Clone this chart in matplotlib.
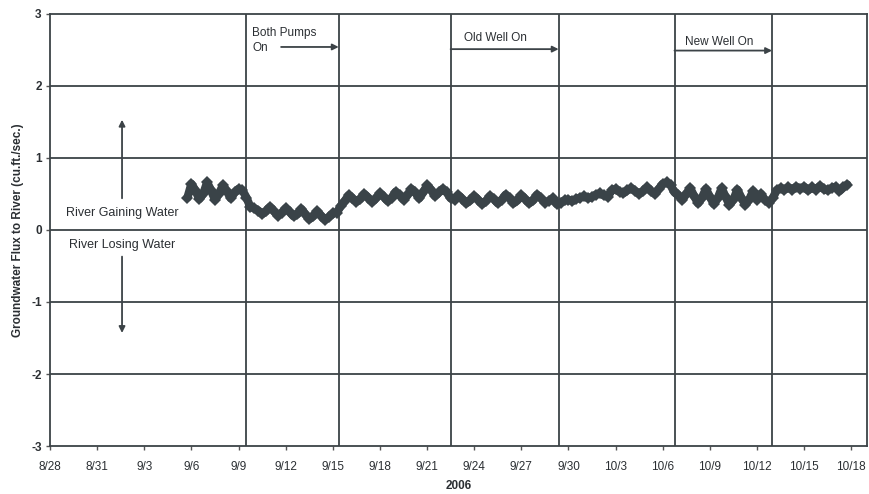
import matplotlib
matplotlib.use("Agg")
import matplotlib.pyplot as plt
import pandas as pd

plt.rcParams['font.family'] = ['Liberation Sans', 'DejaVu Sans']

# ---- data -------------------------------------------------------------
# flux readings every 6 hours starting 2006-09-05 18:00 (cu.ft./sec.)
series_start = '2006-09-05 18:00'
series_step = '6h'
flux = [
    0.45,
    0.64, 0.55, 0.43, 0.50,
    0.66, 0.55, 0.42, 0.50,
    0.62, 0.54, 0.44, 0.52,
    0.57, 0.55, 0.45, 0.32,
    0.30, 0.27, 0.22, 0.26,
    0.32, 0.26, 0.20, 0.24,
    0.30, 0.25, 0.19, 0.22,
    0.29, 0.22, 0.15, 0.19,
    0.26, 0.20, 0.14, 0.18,
    0.23, 0.24, 0.33, 0.40,
    0.48, 0.44, 0.39, 0.43,
    0.50, 0.45, 0.39, 0.44,
    0.51, 0.46, 0.40, 0.45,
    0.53, 0.48, 0.42, 0.48,
    0.57, 0.52, 0.44, 0.52,
    0.62, 0.56, 0.47, 0.52,
    0.57, 0.52, 0.44, 0.42,
    0.48, 0.43, 0.37, 0.41,
    0.47, 0.42, 0.36, 0.40,
    0.47, 0.43, 0.37, 0.42,
    0.49, 0.44, 0.37, 0.41,
    0.48, 0.43, 0.37, 0.41,
    0.49, 0.44, 0.38, 0.40,
    0.44, 0.36, 0.38, 0.41,
    0.42, 0.40, 0.43, 0.45,
    0.47, 0.44, 0.46, 0.49,
    0.51, 0.48, 0.46, 0.55,
    0.57, 0.53, 0.51, 0.55,
    0.58, 0.54, 0.50, 0.54,
    0.59, 0.54, 0.50, 0.57,
    0.64, 0.66, 0.62, 0.52,
    0.48, 0.42, 0.50, 0.58,
    0.47, 0.37, 0.45, 0.57,
    0.46, 0.36, 0.44, 0.58,
    0.46, 0.35, 0.42, 0.56,
    0.45, 0.35, 0.42, 0.54,
    0.42, 0.50, 0.42, 0.38,
    0.44, 0.55, 0.58, 0.56,
    0.59, 0.56, 0.60, 0.57,
    0.60, 0.55, 0.59, 0.56,
    0.61, 0.57, 0.55, 0.58,
    0.60, 0.54, 0.59, 0.63,
]

# pumping event lines
event_times = ['2006-09-09 12:00', '2006-09-15 09:00', '2006-09-22 12:00',
               '2006-09-29 09:00', '2006-10-06 18:00', '2006-10-12 23:00']

x_tick_dates = pd.date_range('2006-08-28', '2006-10-18', freq='3D')
x_tick_labels = ['8/28', '8/31', '9/3', '9/6', '9/9', '9/12', '9/15', '9/18',
                 '9/21', '9/24', '9/27', '9/30', '10/3', '10/6', '10/9',
                 '10/12', '10/15', '10/18']
y_ticks = [-3, -2, -1, 0, 1, 2, 3]

# ---- plot -------------------------------------------------------------
times = pd.date_range(series_start, periods=len(flux), freq=series_step)
ev = pd.to_datetime(event_times)

fig = plt.figure(figsize=(8.7, 4.94), dpi=100)
ax = fig.add_axes([0.0575, 0.097, 0.939, 0.875])

dark = '#3a4348'
txtc = '#2b2f33'
ax.set_xlim(pd.Timestamp('2006-08-28'), pd.Timestamp('2006-10-19'))
ax.set_ylim(-3, 3)

for y in y_ticks[1:-1]:
    ax.axhline(y, color='#3c4347', lw=1.3, zorder=1)
for t in ev:
    ax.axvline(t, color='#3c4347', lw=1.3, zorder=1)

ax.plot(times, flux, color=dark, lw=6, marker='D', ms=6.5,
        markeredgewidth=0, solid_joinstyle='round', solid_capstyle='round',
        zorder=3)

# event annotations
txt_kw = dict(fontsize=8.5, color=txtc, va='center', ha='left')
ax.text(pd.Timestamp('2006-09-09 21:00'), 2.74, 'Both Pumps', **txt_kw)
ax.text(pd.Timestamp('2006-09-09 21:00'), 2.52, 'On', **txt_kw)
arrow_kw = dict(arrowstyle='-|>', color='#3c4347', lw=1.3, mutation_scale=9,
                shrinkA=0, shrinkB=0)
ax.annotate('', xy=(ev[1], 2.54), xytext=(pd.Timestamp('2006-09-11 17:00'), 2.54),
            arrowprops=arrow_kw)
ax.text(pd.Timestamp('2006-09-23 08:00'), 2.67, 'Old Well On', **txt_kw)
ax.annotate('', xy=(ev[3], 2.51), xytext=(ev[2], 2.51), arrowprops=arrow_kw)
ax.text(pd.Timestamp('2006-10-07 10:00'), 2.61, 'New Well On', **txt_kw)
ax.annotate('', xy=(ev[5], 2.49), xytext=(ev[4], 2.49), arrowprops=arrow_kw)

# gaining / losing labels
xa = pd.Timestamp('2006-09-01 14:00')
ax.annotate('', xy=(xa, 1.53), xytext=(xa, 0.44), arrowprops=arrow_kw)
ax.annotate('', xy=(xa, -1.43), xytext=(xa, -0.37), arrowprops=arrow_kw)
ax.text(xa, 0.24, 'River Gaining Water', fontsize=9, color=txtc,
        ha='center', va='center')
ax.text(xa, -0.21, 'River Losing Water', fontsize=9, color=txtc,
        ha='center', va='center')

ax.set_xticks(x_tick_dates)
ax.set_xticklabels(x_tick_labels, fontsize=8.5, color=txtc)
ax.set_yticks(y_ticks)
ax.set_yticklabels([str(v) for v in y_ticks], fontsize=8.5, fontweight='bold',
                   color=txtc)
ax.tick_params(axis='x', length=3, width=1, color='#555', pad=8)
ax.tick_params(axis='y', length=3, width=1, color='#555', pad=3)

for s in ax.spines.values():
    s.set_color('#3c4347')
    s.set_linewidth(1.3)

ax.set_xlabel('2006', fontsize=8.5, fontweight='bold', color=txtc, labelpad=5)
ax.set_ylabel('Groundwater Flux to River (cu.ft./sec.)', fontsize=8.5,
              fontweight='bold', color=txtc, labelpad=5)

fig.savefig('out.png', dpi=100, facecolor='white')
